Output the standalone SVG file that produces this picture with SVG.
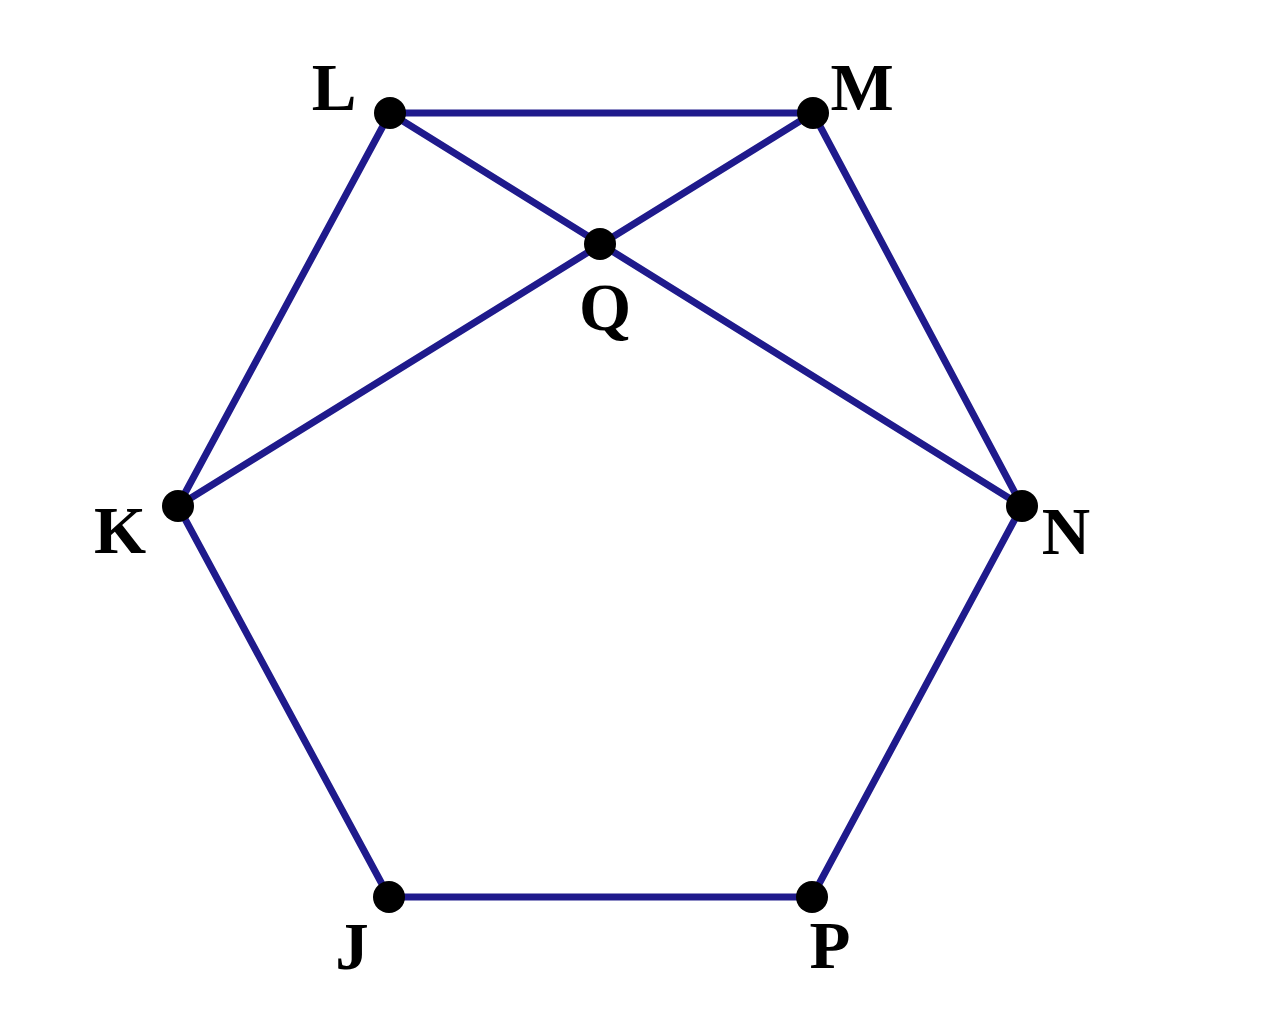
<svg xmlns="http://www.w3.org/2000/svg" width="1268" height="1022" viewBox="0 0 1268 1022">
<style>
.e{stroke:#1f1a8c;stroke-width:7;stroke-linecap:round;fill:none}
.d{fill:#000}
.t{font-family:"Liberation Serif","Times New Roman",serif;font-weight:bold;font-size:67px;fill:#000;text-anchor:middle}
</style>
<rect width="1268" height="1022" fill="#fff"/>
<g id="connectors">
<line class="e" x1="390" y1="113" x2="813" y2="113"/>
<line class="e" x1="390" y1="113" x2="178" y2="506"/>
<line class="e" x1="813" y1="113" x2="1022" y2="506"/>
<line class="e" x1="178" y1="506" x2="389" y2="897"/>
<line class="e" x1="1022" y1="506" x2="812" y2="897"/>
<line class="e" x1="389" y1="897" x2="812" y2="897"/>
<line class="e" x1="390" y1="113" x2="1022" y2="506"/>
<line class="e" x1="813" y1="113" x2="178" y2="506"/>
</g>
<g id="L"><circle class="d" cx="390" cy="113" r="16"/><text class="t" x="334" y="110">L</text></g>
<g id="M"><circle class="d" cx="813" cy="113" r="16"/><text class="t" x="862" y="110">M</text></g>
<g id="K"><circle class="d" cx="178" cy="506" r="16"/><text class="t" x="120" y="553">K</text></g>
<g id="N"><circle class="d" cx="1022" cy="506" r="16"/><text class="t" x="1066" y="554">N</text></g>
<g id="J"><circle class="d" cx="389" cy="897" r="16"/><text class="t" x="352" y="969">J</text></g>
<g id="P"><circle class="d" cx="812" cy="897" r="16"/><text class="t" x="830" y="968">P</text></g>
<g id="Q"><circle class="d" cx="600" cy="244" r="16"/><text class="t" x="605" y="330">Q</text></g>
</svg>
